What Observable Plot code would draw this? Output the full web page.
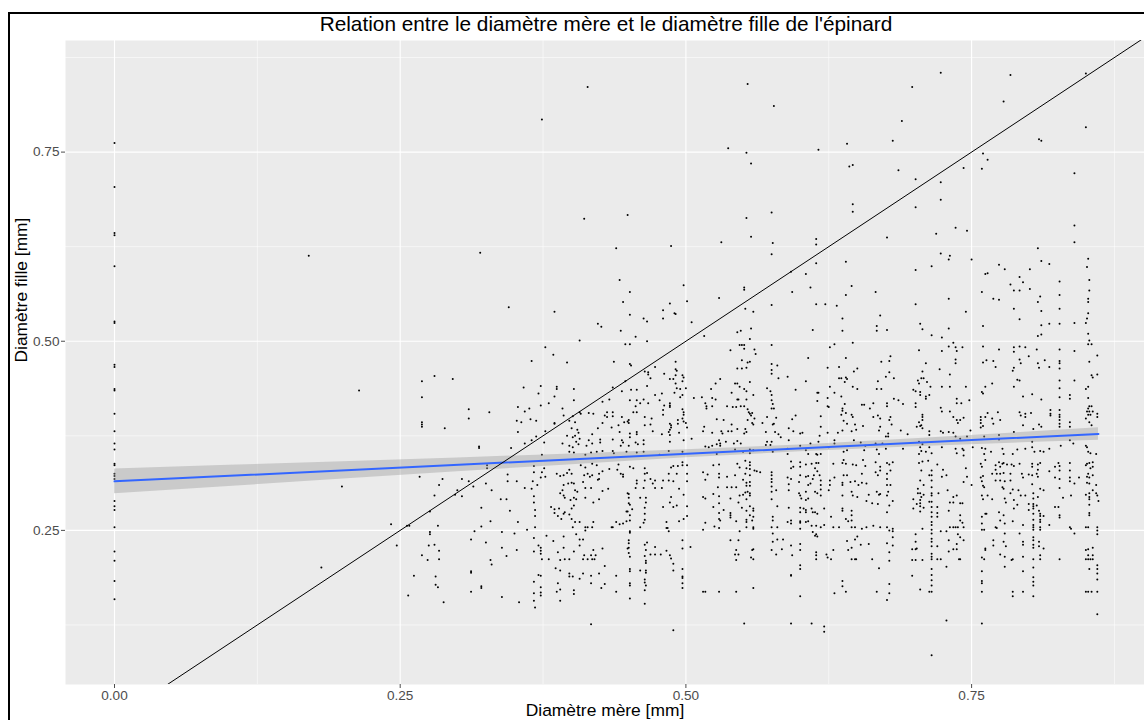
<!DOCTYPE html>
<html lang="fr">
<head>
<meta charset="utf-8">
<title>Diamètre mère et diamètre fille de l'épinard</title>
<script src="https://cdn.jsdelivr.net/npm/d3@7"></script>
<script src="https://cdn.jsdelivr.net/npm/@observablehq/plot@0.6"></script>
<style>
  html, body { margin: 0; padding: 0; background: #ffffff; }
  body {
    width: 1144px; height: 720px; position: relative; overflow: hidden;
    font-family: "Liberation Sans", Arial, Helvetica, sans-serif;
  }
  #cadre {
    position: absolute; left: 8px; top: 12px; width: 1400px; height: 900px;
    border-left: 2px solid #000; border-top: 2px solid #000; box-sizing: border-box;
  }
  #titre {
    position: absolute; left: 0; top: 12px; width: 1212px; text-align: center;
    font-size: 20.8px; line-height: 24px; color: #000; white-space: nowrap;
  }
  #graphique { position: absolute; left: 0; top: 40px; }
</style>
</head>
<body>
<div id="cadre"></div>
<div id="titre">Relation entre le diamètre mère et le diamètre fille de l'épinard</div>
<div id="graphique"></div>
<script>
// Mesures en micromètres : [diamètre mère, diamètre fille]

// Plantes dont le diamètre mère vaut 0 (diamètre fille seulement)
const filleMereNulle = [762,704,643,640,599,526,524,469,466,437,435,404,381,365,357,338,336,325,322,318,289,282,277,254,222,210,183,159];

// Points isolés à faible diamètre mère
const mereFaible = [[170,613],[214,435],[199,308],[181,201]];

// Points épars au-dessus de 0.6 mm
const filleHaute = [
  [414,836],[374,793],[411,662],[449,667],[320,617],[439,623],[487,626],
  [554,840],[577,811],[537,755],[553,749],[557,735],[616,753],[641,761],[643,731],[646,733],[723,855],[698,836],
  [689,791],[681,765],[686,726],[701,714],[723,710],[723,687],[701,677],[646,681],[646,671],[553,663],[575,670],
  [557,638],[531,631],[576,630],[575,615],[614,635],[614,628],[676,637],[719,642],[736,650],[746,646],[723,616],
  [731,613],[730,608],[750,608],[784,852],[778,817],[850,854],[850,783],[809,767],[811,765],[760,748],[764,740],
  [743,729],[759,728],[840,722],[840,653],[840,631],[808,623],[852,609]
];

// Mère entre 0.25 et 0.52 mm, fille entre 0.35 et 0.6 mm
const groupeA = [
  [269,447],[269,426],[269,393],[269,390],[269,387],[280,454],[296,450],[289,385],[310,410],[310,398],[328,406],
  [319,361],[319,359],[345,545],[385,539],[365,474],[377,492],[384,482],[396,472],[358,439],[373,441],[387,440],
  [387,437],[371,431],[402,437],[385,427],[402,422],[373,415],[380,418],[353,413],[363,411],[359,407],[364,397],
  [369,395],[352,395],[356,393],[353,380],[385,392],[385,391],[392,411],[393,402],[398,395],[401,401],[407,406],
  [408,404],[415,405],[403,393],[377,381],[369,374],[359,365],[365,369],[376,366],[347,359],[374,350],[396,375],
  [400,385],[405,383],[406,379],[403,375],[401,373],[407,371],[404,367],[392,365],[398,362],[401,360],[406,364],
  [398,354],[402,353],[407,501],[423,523],[426,519],[442,581],[445,552],[451,565],[451,535],[443,514],[447,496],
  [451,496],[456,506],[466,500],[463,530],[466,526],[486,550],[480,541],[480,530],[490,537],[491,536],[498,574],
  [501,553],[505,525],[437,473],[451,470],[452,468],[447,447],[436,439],[444,434],[452,436],[457,436],[467,459],
  [464,460],[467,456],[469,451],[473,466],[466,441],[481,457],[486,450],[489,450],[491,473],[491,463],[492,461],
  [491,455],[497,455],[498,452],[497,447],[491,444],[492,438],[495,437],[500,438],[490,432],[495,426],[497,429],
  [507,425],[457,422],[451,422],[463,423],[460,418],[456,414],[454,406],[457,406],[464,400],[467,418],[473,429],
  [477,422],[479,431],[481,415],[480,409],[480,403],[486,418],[486,415],[486,413],[497,410],[498,406],[498,403],
  [497,398],[498,394],[500,392],[493,396],[493,391],[470,398],[469,390],[471,381],[486,391],[487,389],[487,386],
  [486,383],[485,380],[486,376],[486,367],[494,379],[501,386],[505,371],[498,369],[479,377],[464,389],[457,380],
  [457,377],[451,378],[451,373],[450,362],[458,364],[456,366],[463,369],[463,364],[444,369],[445,366],[443,362],
  [436,370],[442,380],[435,386],[441,389],[446,393],[449,394],[450,396],[450,392],[436,401],[444,400],[431,406],
  [436,406],[429,402],[431,400],[427,420],[433,423],[419,404],[423,385],[427,392],[425,370],[425,366],[418,377],
  [415,369],[413,362],[418,365],[422,354],[427,355],[436,355],[437,352],[417,353],[412,350],[448,354],[457,353],
  [463,354],[485,355],[497,354],[477,350]
];

// Mère entre 0.51 et 0.86 mm, fille entre 0.35 et 0.6 mm
const groupeB = [
  [614,603],[640,605],[529,557],[551,571],[551,568],[593,565],[609,571],[592,592],[605,589],[575,548],[552,543],
  [559,539],[614,549],[622,549],[611,515],[545,512],[548,514],[557,517],[556,503],[516,507],[632,547],[645,573],
  [640,561],[637,530],[637,514],[666,565],[670,534],[667,520],[667,514],[676,515],[701,594],[715,599],[701,549],
  [705,523],[707,516],[715,508],[724,505],[730,556],[730,517],[745,539],[774,601],[779,595],[764,590],[762,589],
  [759,565],[769,556],[774,555],[784,575],[787,567],[792,585],[795,578],[792,567],[801,595],[801,569],[787,543],
  [792,529],[760,520],[811,606],[818,602],[810,559],[808,552],[811,540],[811,521],[808,507],[811,509],[818,523],
  [827,579],[827,561],[827,543],[827,523],[840,524],[850,524],[851,598],[853,581],[853,567],[852,556],[852,552],
  [852,537],[851,530],[852,510],[853,501],
  [539,488],[547,495],[549,495],[551,495],[551,490],[560,489],[561,483],[575,495],[549,475],[554,472],[556,473],
  [545,464],[549,464],[553,465],[575,470],[580,468],[575,462],[575,457],[581,451],[589,453],[607,478],[605,447],
  [530,450],[526,444],[522,437],[514,426],[523,425],[526,423],[517,418],[518,414],[518,411],[523,414],[543,444],
  [545,444],[547,440],[551,437],[553,434],[556,446],[559,429],[540,432],[545,423],[546,423],[553,423],[548,414],
  [551,414],[541,413],[536,414],[544,413],[554,410],[555,406],[556,404],[558,405],[557,402],[560,398],[554,396],
  [571,438],[574,434],[575,429],[575,422],[576,417],[575,411],[577,411],[579,399],[576,390],[577,391],[571,400],
  [596,436],[596,402],[593,397],[615,432],[616,432],[615,421],[618,401],[626,440],[624,465],[626,492],[630,496],
  [640,478],[634,466],[646,498],[650,464],[647,460],[634,451],[636,451],[640,452],[641,450],[639,446],[646,440],
  [650,437],[624,425],[630,432],[624,414],[625,413],[636,427],[639,417],[637,411],[637,408],[640,405],[636,403],
  [645,403],[646,400],[654,416],[656,416],[638,395],[641,391],[648,390],[655,388],[637,382],[645,381],[649,383],
  [633,379],[624,379],[618,387],[617,375],[616,367],[609,365],[602,379],[600,378],[594,381],[590,385],[590,369],
  [583,373],[581,377],[578,380],[570,380],[567,392],[559,390],[558,392],[552,384],[553,380],[551,378],[545,384],
  [540,390],[540,381],[537,381],[533,396],[527,397],[523,379],[531,381],[532,378],[529,369],[527,364],[516,387],
  [515,381],[517,361],[520,360],[523,362],[530,365],[530,362],[535,367],[542,365],[545,368],[548,365],[550,354],
  [556,357],[556,352],[559,356],[570,363],[571,367],[574,363],[575,367],[589,358],[600,362],[607,351],[615,350],
  [618,351],[625,360],[630,369],[630,365],[638,354],[641,356],[647,369],[653,366],[657,362],[666,365],[672,365],
  [675,374],[677,374],[677,378],[670,387],[669,382],[670,398],[668,402],[664,418],[661,411],[664,400],[679,400],
  [678,396],[680,390],[667,437],[671,437],[668,447],[675,453],[678,459],[682,451],[671,473],[678,474],[679,480],
  [676,418],[676,414],[682,424],[686,422],[690,417],[699,436],[701,434],[701,418],[701,413],[705,433],[705,429],
  [706,451],[708,451],[703,448],[704,444],[711,446],[714,440],[710,427],[713,429],[710,424],[707,460],[710,471],
  [704,488],[722,463],[724,487],[730,493],[731,456],[734,498],[736,492],[737,487],[736,476],[736,471],[742,492],
  [724,440],[731,440],[737,424],[737,418],[741,418],[745,440],[748,422],[723,412],[724,407],[731,407],[734,400],
  [737,396],[738,392],[740,396],[743,399],[707,403],[707,400],[707,396],[706,389],[707,385],[704,393],[705,388],
  [702,387],[713,381],[713,376],[723,381],[725,379],[730,380],[734,379],[736,374],[740,371],[746,374],[688,382],
  [694,377],[704,367],[707,364],[705,360],[706,355],[710,354],[713,360],[715,352],[724,360],[736,358],[742,358],
  [743,356],[743,349],[737,352],[749,382],[751,360],[758,400],[758,396],[758,392],[760,388],[758,386],[764,405],
  [762,400],[768,398],[773,406],[769,391],[775,396],[774,376],[774,370],[761,374],[759,359],[762,358],[767,354],
  [759,433],[760,431],[762,440],[760,472],[763,475],[769,474],[771,466],[774,489],[760,493],[768,444],[787,492],
  [787,486],[792,493],[797,492],[792,476],[793,471],[787,465],[786,461],[800,480],[807,489],[808,471],[809,465],
  [818,466],[814,475],[790,449],[792,448],[787,440],[795,427],[803,430],[792,406],[793,402],[797,404],[797,400],
  [802,405],[811,423],[819,409],[819,404],[819,402],[827,489],[827,474],[827,471],[827,464],[827,448],[827,438],
  [827,426],[827,409],[827,403],[827,400],[827,396],[827,391],[827,387],[836,429],[836,424],[840,448],[840,487],
  [836,393],[836,387],[853,473],[852,496],[855,496],[860,481],[860,456],[855,455],[856,452],[850,437],[852,440],
  [852,425],[853,414],[855,414],[851,407],[853,407],[856,407],[852,403],[854,403],[850,398],[853,393],[855,389],
  [860,404],[860,400],[852,411],[850,362],[851,360],[852,354],[854,352],[859,351],[836,369],[839,365],[828,362],
  [818,358],[813,354],[810,355],[805,354],[803,360],[803,367],[804,384],[809,390],[811,387],[795,389],[787,380],
  [790,357],[797,358],[777,358],[778,351],[786,351],[761,351],[704,351],[690,358],[675,358],[667,357],[656,356],
  [669,351],[614,351],[605,356],[589,351],[576,354],[543,357],[527,351]
];

// Mère entre 0.24 et 0.51 mm, fille sous 0.35 mm
const groupeC = [
  [242,258],[247,230],[256,256],[258,256],[257,164],[262,190],[267,321],[280,296],[284,310],[287,318],[276,275],
  [283,256],[276,248],[276,245],[275,230],[269,217],[274,211],[280,231],[284,223],[284,212],[281,189],[281,178],
  [283,175],[288,155],[298,297],[300,303],[304,318],[304,295],[310,315],[314,308],[315,249],[312,238],[312,196],
  [312,194],[312,169],[321,176],[321,174],[321,280],[321,255],[325,234],[325,312],[329,262],[329,211],[330,205],
  [326,336],[326,332],[330,303],[338,291],[343,291],[344,324],[344,315],[346,276],[339,248],[339,227],[343,216],
  [339,162],[350,246],[352,224],[353,261],[352,315],[354,155],[359,306],[361,251],[365,305],[366,315],[367,335],
  [367,327],[370,310],[367,295],[367,287],[368,277],[368,269],[368,254],[367,240],[367,222],[371,230],[373,227],
  [373,223],[373,219],[374,212],[371,191],[373,190],[367,182],[373,175],[373,168],[373,164],[367,167],[367,157],
  [368,148],[374,327],[373,320],[376,332],[377,321],[380,212],[378,243],[384,236],[382,281],[385,278],[385,273],
  [388,269],[389,279],[391,265],[393,272],[394,274],[398,271],[400,279],[402,283],[400,265],[403,261],[401,254],
  [407,261],[387,325],[390,322],[393,323],[396,326],[398,330],[400,325],[393,310],[397,312],[400,313],[402,312],
  [390,299],[393,296],[392,303],[394,293],[403,303],[405,301],[399,290],[402,293],[404,291],[408,336],[412,333],
  [414,325],[416,321],[418,323],[411,323],[410,314],[412,306],[417,306],[412,293],[419,287],[424,291],[424,325],
  [424,318],[427,302],[432,305],[418,338],[422,336],[427,328],[433,331],[441,337],[440,330],[443,325],[445,324],
  [445,321],[451,334],[454,332],[457,316],[457,312],[456,306],[464,332],[464,325],[466,326],[469,318],[471,312],
  [473,306],[464,316],[463,306],[449,299],[450,298],[450,293],[450,286],[451,284],[449,275],[453,278],[448,275],
  [451,270],[465,293],[465,287],[460,293],[464,280],[464,272],[464,264],[463,260],[460,254],[480,281],[487,294],
  [486,287],[489,281],[492,283],[494,305],[498,297],[501,282],[498,265],[501,269],[494,262],[485,316],[489,315],
  [485,325],[487,333],[489,335],[492,325],[497,340],[501,336],[501,325],[501,315],[480,316],[479,306],[473,316],
  [497,336],[493,335],[436,254],[439,261],[442,258],[445,259],[423,317],[448,262],[451,263],[451,249],[451,247],
  [450,237],[450,233],[450,227],[450,220],[449,226],[451,215],[451,199],[451,196],[451,180],[451,177],[451,160],
  [464,231],[465,224],[464,216],[465,210],[465,207],[465,197],[465,194],[460,197],[464,185],[464,181],[465,177],
  [464,171],[464,153],[466,234],[469,218],[473,218],[473,228],[478,218],[483,223],[483,261],[483,253],[484,253],
  [485,249],[486,217],[487,213],[489,206],[489,197],[497,237],[497,226],[497,199],[497,189],[497,187],[497,180],
  [497,174],[504,228],[489,118],[417,126],[435,254],[412,254],[414,254],[418,254],[412,250],[419,261],[404,245],
  [407,238],[410,238],[407,230],[402,222],[398,212],[394,212],[390,211],[393,227],[393,242],[388,221],[411,217],
  [414,212],[410,212],[417,217],[418,212],[420,212],[421,217],[419,224],[427,226],[429,203],[424,193],[417,190],
  [410,193],[407,186],[401,189],[398,193],[398,189],[390,197],[386,200],[388,180],[390,172],[387,169],[390,157],
  [402,171],[402,166],[417,180],[426,174],[429,179],[439,190],[439,169]
];

// Mère entre 0.51 et 0.86 mm, fille sous 0.35 mm
const groupeD = [
  [515,327],[519,324],[517,317],[524,336],[529,337],[529,325],[529,320],[536,321],[543,323],[545,338],[547,333],
  [552,342],[556,340],[556,336],[553,332],[556,331],[560,329],[562,328],[565,327],[552,325],[556,323],[550,317],
  [553,313],[553,309],[556,314],[556,309],[528,307],[536,307],[540,307],[544,307],[515,294],[517,292],[524,298],
  [529,295],[539,292],[547,296],[550,297],[552,300],[554,301],[556,299],[556,296],[553,291],[546,287],[529,286],
  [524,281],[533,277],[529,273],[539,273],[539,270],[539,267],[544,262],[549,280],[553,276],[556,282],[559,279],
  [559,276],[556,270],[559,268],[558,263],[553,264],[553,261],[553,254],[559,254],[559,252],[529,265],[530,263],
  [517,260],[515,251],[525,255],[529,253],[547,249],[539,237],[546,237],[544,224],[543,218],[544,211],[546,218],
  [558,224],[559,225],[557,214],[559,212],[559,174],[515,169],[517,169],[529,169],[544,169],[551,127],
  [575,327],[575,323],[575,318],[575,314],[575,308],[575,301],[579,303],[575,291],[580,282],[576,268],[576,263],
  [575,254],[580,254],[576,246],[576,235],[580,238],[585,238],[575,224],[579,218],[584,225],[592,341],[594,334],
  [592,332],[589,320],[592,318],[590,311],[590,303],[600,340],[600,334],[605,337],[610,338],[614,339],[616,339],
  [613,332],[615,328],[600,323],[605,321],[607,322],[612,323],[617,323],[611,318],[618,316],[599,314],[609,312],
  [607,310],[618,310],[618,304],[599,299],[600,296],[605,301],[601,292],[605,290],[607,292],[613,301],[615,299],
  [618,296],[625,303],[626,310],[590,280],[600,280],[603,279],[605,277],[600,274],[605,274],[610,279],[611,274],
  [613,274],[615,272],[621,279],[600,262],[600,260],[605,261],[607,262],[589,261],[592,263],[592,259],[600,252],
  [610,256],[614,256],[621,257],[618,254],[611,248],[613,243],[615,242],[614,245],[592,230],[600,232],[600,224],
  [593,217],[600,204],[600,199],[592,191],[592,190],[614,221],[614,217],[614,212],[623,218],[624,214],[627,212],
  [600,163],[592,127],[610,127],[621,123],[621,116],[627,268],
  [629,338],[637,339],[638,343],[640,338],[646,337],[649,336],[655,343],[657,335],[666,340],[670,334],[676,339],
  [678,337],[681,340],[638,323],[641,323],[630,320],[626,316],[637,313],[637,310],[644,314],[648,315],[651,310],
  [654,313],[658,312],[654,325],[666,327],[668,323],[670,329],[676,325],[679,329],[676,318],[676,310],[679,310],
  [645,301],[646,296],[650,294],[637,296],[658,289],[660,297],[663,286],[667,301],[669,297],[670,298],[676,296],
  [677,301],[681,289],[678,283],[676,274],[668,285],[637,279],[637,276],[645,276],[645,270],[645,263],[640,265],
  [642,262],[629,254],[634,254],[645,254],[648,254],[654,252],[658,254],[664,256],[670,254],[676,254],[678,250],
  [681,252],[681,249],[681,241],[676,233],[650,242],[648,238],[641,236],[645,227],[642,224],[629,224],[653,231],
  [660,232],[681,230],[678,221],[645,212],[648,212],[649,212],[663,212],[678,210],[669,200],[637,183],[637,176],
  [630,167],[640,169],[667,169],[678,179],[678,167],[676,158],
  [704,339],[707,341],[712,342],[720,337],[725,330],[715,329],[715,323],[713,323],[724,321],[728,323],[706,329],
  [705,316],[708,310],[703,305],[705,299],[703,299],[706,294],[708,297],[705,290],[705,286],[702,285],[705,282],
  [699,291],[699,279],[705,275],[708,280],[715,316],[715,307],[715,299],[715,296],[713,288],[715,288],[715,281],
  [715,274],[715,268],[715,261],[715,257],[715,251],[715,246],[715,239],[715,235],[715,229],[715,219],[715,215],
  [715,212],[715,199],[715,191],[715,184],[715,177],[713,169],[715,169],[715,85],[721,299],[720,281],[720,273],
  [720,268],[729,303],[731,287],[734,287],[734,294],[737,296],[730,276],[740,286],[742,286],[740,270],[740,263],
  [742,260],[731,254],[734,254],[736,254],[738,254],[743,254],[723,249],[728,249],[707,252],[701,245],[701,235],
  [701,225],[702,226],[698,225],[698,211],[701,211],[707,211],[720,229],[720,212],[723,212],[730,237],[738,245],
  [740,241],[743,237],[737,232],[734,225],[730,222],[737,225],[739,212],[740,212],[728,202],[698,190],[705,172],
  [728,131],[746,321],[745,332],[743,314],[750,310],
  [758,338],[759,334],[762,343],[760,322],[758,320],[759,315],[760,309],[761,307],[759,296],[760,291],[764,296],
  [768,291],[771,336],[774,340],[777,338],[778,339],[775,334],[781,337],[771,330],[768,325],[772,325],[775,325],
  [778,326],[771,316],[775,316],[779,315],[777,307],[778,305],[784,325],[784,316],[785,337],[787,335],[792,338],
  [794,325],[795,320],[800,324],[803,338],[803,334],[808,337],[810,339],[808,330],[807,325],[808,321],[803,323],
  [803,311],[810,305],[813,303],[818,328],[823,334],[826,339],[827,335],[827,329],[827,318],[827,306],[823,320],
  [836,339],[836,329],[836,320],[836,315],[840,312],[844,320],[850,336],[851,338],[853,339],[856,340],[856,334],
  [854,332],[852,325],[851,321],[853,320],[856,323],[851,313],[853,312],[859,310],[856,303],[850,297],[853,299],
  [859,299],[860,296],[853,294],[853,291],[861,289],[853,284],[853,273],[853,270],[837,296],[830,293],[823,281],
  [826,281],[827,270],[827,267],[818,257],[813,269],[810,272],[810,269],[810,264],[810,261],[810,254],[810,251],
  [804,299],[804,292],[804,285],[804,282],[804,279],[804,272],[804,264],[804,257],[804,254],[804,251],[804,241],
  [804,237],[804,231],[804,227],[804,212],[804,201],[804,188],[804,182],[804,177],[804,163],[808,294],[807,283],
  [809,276],[800,285],[800,277],[797,296],[793,296],[790,284],[787,279],[787,290],[784,299],[786,304],[791,303],
  [779,292],[780,287],[774,274],[778,270],[775,263],[779,259],[771,254],[772,253],[786,262],[795,257],[792,246],
  [795,235],[795,231],[795,215],[779,246],[778,235],[780,229],[769,237],[769,230],[775,218],[779,215],[785,211],
  [786,212],[779,202],[763,272],[762,272],[759,268],[759,259],[759,251],[761,251],[762,226],[762,224],[759,214],
  [761,212],[759,196],[759,183],[759,180],[759,169],[759,127],[786,169],[786,163],[795,169],[795,196],[809,235],
  [809,229],[813,226],[810,217],[810,212],[827,212],[836,254],[837,252],[840,246],[850,254],[852,254],[860,254],
  [860,250],[860,245],[850,224],[852,225],[856,227],[852,217],[856,217],[850,212],[852,212],[854,212],[856,212],
  [853,199],[860,204],[860,199],[860,193],[860,185],[850,169],[852,169],[855,169],[860,169],[860,139]
];

// Droite de régression (lm) et son intervalle de confiance à 95 %
const ajustementMere = [0, 0.861];
const ajustementFille = [0.3148, 0.3774];
const bandeMere = [0, 0.1, 0.2, 0.3, 0.4, 0.5, 0.6, 0.7, 0.8, 0.861];
const bandeBasse = [0.2983, 0.3081, 0.3178, 0.3274, 0.3369, 0.3459, 0.3538, 0.3604, 0.3660, 0.3692];
const bandeHaute = [0.3313, 0.3361, 0.3408, 0.3458, 0.3509, 0.3565, 0.3630, 0.3710, 0.3800, 0.3856];

// Première bissectrice (diamètre fille = diamètre mère)
const bissectrice = [0, 1];

// Graduations
const ticksX = [0, 0.25, 0.5, 0.75];
const ticksY = [0.25, 0.5, 0.75];
const ticksMineursX = [0.125, 0.375, 0.625, 0.875];
const ticksMineursY = [0.125, 0.375, 0.625, 0.875];

const titreX = "Diamètre mère [mm]";
const titreY = "Diamètre fille [mm]";

// Tableau des plantes en mm
const plantes = [
  ...filleMereNulle.map(f => [0, f]),
  ...mereFaible, ...filleHaute, ...groupeA, ...groupeB, ...groupeC, ...groupeD
].map(([m, f]) => ({mere: m / 1000, fille: f / 1000}));

const ajustement = ajustementMere.map((m, i) => ({mere: m, fille: ajustementFille[i]}));
const bande = bandeMere.map((m, i) => ({mere: m, bas: bandeBasse[i], haut: bandeHaute[i]}));

const police = "Liberation Sans, Arial, Helvetica, sans-serif";
const fmt = d3.format(".2f");

const chart = Plot.plot({
  width: 1144,
  height: 680,
  marginLeft: 65,
  marginRight: 0,
  marginTop: 0,
  marginBottom: 36,
  style: {fontFamily: police, background: "transparent", overflow: "visible"},
  x: {domain: [-0.04288, 0.9013], axis: null},
  y: {domain: [0.0463, 0.8975], axis: null},
  marks: [
    Plot.frame({fill: "#EBEBEB", stroke: null}),
    Plot.gridX(ticksMineursX, {stroke: "#ffffff", strokeOpacity: 1, strokeWidth: 0.55}),
    Plot.gridY(ticksMineursY, {stroke: "#ffffff", strokeOpacity: 1, strokeWidth: 0.55}),
    Plot.gridX(ticksX, {stroke: "#ffffff", strokeOpacity: 1, strokeWidth: 1.1}),
    Plot.gridY(ticksY, {stroke: "#ffffff", strokeOpacity: 1, strokeWidth: 1.1}),
    Plot.axisX(ticksX, {tickSize: 4, tickPadding: 1.5, tickFormat: fmt, color: "#4D4D4D", fontSize: 13.6, label: null}),
    Plot.axisY(ticksY, {tickSize: 4, tickPadding: 2, tickFormat: fmt, color: "#4D4D4D", fontSize: 13.6, label: null}),
    Plot.dot(plantes, {x: "mere", y: "fille", r: 1, fill: "#000000", stroke: null}),
    Plot.areaY(bande, {x: "mere", y1: "bas", y2: "haut", fill: "#999999", fillOpacity: 0.4}),
    Plot.line(ajustement, {x: "mere", y: "fille", stroke: "#3366FF", strokeWidth: 2}),
    Plot.line(bissectrice, {x: d => d, y: d => d, stroke: "#000000", strokeWidth: 1, clip: true}),
    Plot.text([titreX], {frameAnchor: "bottom", dy: 25.5, lineAnchor: "middle", fontSize: 17.4, fill: "#000000"}),
    Plot.text([titreY], {frameAnchor: "left", dx: -44, rotate: -90, lineAnchor: "middle", fontSize: 17.4, fill: "#000000"})
  ]
});

document.getElementById("graphique").appendChild(chart);
</script>
</body>
</html>
